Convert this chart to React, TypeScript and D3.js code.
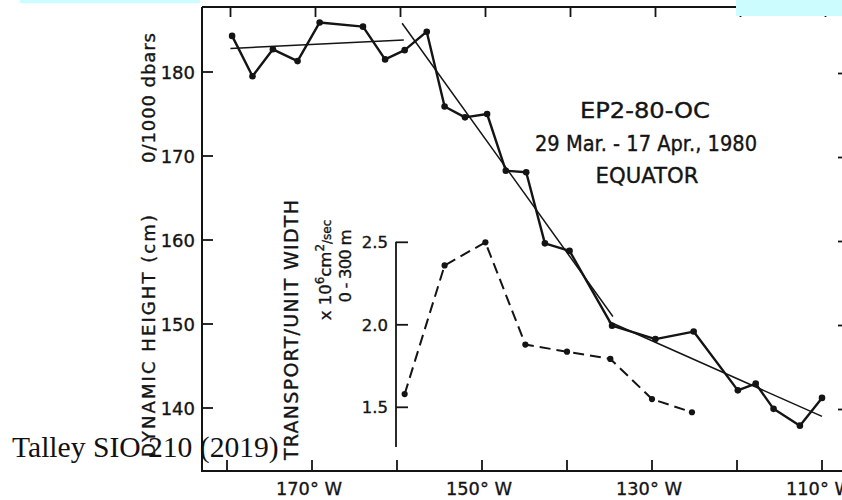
import React from "react";
import * as d3 from "d3";

// Dynamic height 0/1000 dbar along the equator (longitude in degrees W)
const STATION_LON = [179.4, 177.0, 174.6, 171.7, 169.1, 164.0, 161.4, 159.1, 156.5, 154.4, 152.0, 149.4, 147.2, 144.8, 142.6, 139.7, 134.7, 129.6, 125.1, 119.9, 117.8, 115.7, 112.6, 110.0];
const DYN_HEIGHT = [184.3, 179.5, 182.7, 181.3, 185.9, 185.4, 181.5, 182.6, 184.8, 175.9, 174.6, 175.0, 168.25, 168.06, 159.6, 158.7, 149.8, 148.2, 149.1, 142.1, 142.9, 139.9, 137.9, 141.2];

// Straight-line fits over three longitude bands
const FIT_WEST_LON = [179.6, 159.2];
const FIT_WEST = [182.8, 183.8];
const FIT_MID_LON = [159.4, 134.6];
const FIT_MID = [185.8, 150.9];
const FIT_EAST_LON = [135.1, 110.0];
const FIT_EAST = [150.3, 139.0];

// Transport per unit width, 0-300 m (x 10^6 cm^2/sec)
const TRANSPORT_LON = [159.1, 154.4, 149.6, 144.9, 140.0, 134.9, 130.0, 125.3];
const TRANSPORT = [1.58, 2.36, 2.5, 1.88, 1.837, 1.793, 1.55, 1.47];

const LON_TICKS = [180, 170, 160, 150, 140, 130, 120, 110];
const LON_LABELS = [170, 150, 130, 110];
const HEIGHT_TICKS = [180, 170, 160, 150, 140];
const TRANSPORT_TICKS = [2.5, 2.0, 1.5];

const TITLE_LINES = ["EP2-80-OC", "29 Mar. - 17 Apr., 1980", "EQUATOR"];

const W = 842;
const H = 500;
const INK = "#141414";
const FONT = "'DejaVu Sans', sans-serif";
// a light outline gives the lettering a pen-drawn weight
const PEN = { stroke: INK, strokeWidth: 0.35 };

export default function App() {
  const x = d3.scaleLinear().domain([180, 110]).range([227, 822]);
  const y = d3.scaleLinear().domain([180, 140]).range([72, 408]);
  const yT = d3.scaleLinear().domain([2.5, 1.5]).range([242.3, 407.3]);

  const left = 202;
  const top = 7;
  const bottom = 471;
  const tAxisX = 396;

  const heightLine = d3
    .line<number>()
    .x((_, i) => x(STATION_LON[i]))
    .y((d) => y(d));
  const transportLine = d3
    .line<number>()
    .x((_, i) => x(TRANSPORT_LON[i]))
    .y((d) => yT(d));
  const fit = (lons: number[], vals: number[]) =>
    d3.line<number>().x((_, i) => x(lons[i])).y((d) => y(d))(vals) || "";

  return (
    <svg
      width={W}
      height={H}
      style={{ position: "absolute", left: 0, top: 0, background: "#fff" }}
      fontFamily={FONT}
    >
      <rect x={0} y={0} width={W} height={H} fill="#fff" />

      {/* frame */}
      <line x1={left} y1={top} x2={left} y2={bottom} stroke={INK} strokeWidth={2} />
      <line x1={left - 1} y1={bottom} x2={W} y2={bottom} stroke={INK} strokeWidth={2} />
      <line x1={left} y1={top} x2={W} y2={top} stroke={INK} strokeWidth={2} />

      {/* longitude ticks, bottom and top */}
      {LON_TICKS.map((t) => (
        <g key={"lt" + t}>
          <line x1={x(t)} x2={x(t)} y1={bottom} y2={bottom - 11} stroke={INK} strokeWidth={1.8} />
          <line x1={x(t) + 3.5} x2={x(t) + 3.5} y1={top} y2={top + 10} stroke={INK} strokeWidth={1.8} />
        </g>
      ))}
      {LON_LABELS.map((t) => (
        <text
          key={"ll" + t}
          x={x(t) - 3}
          y={495}
          textAnchor="middle"
          fontSize={18.5}
          fill={INK}
          {...PEN}
          textLength={66}
          lengthAdjust="spacingAndGlyphs"
        >
          {`${t}° W`}
        </text>
      ))}

      {/* dynamic height axis */}
      {HEIGHT_TICKS.map((t) => (
        <g key={"ht" + t}>
          <line x1={left} x2={left + 11} y1={y(t)} y2={y(t)} stroke={INK} strokeWidth={1.8} />
          <line x1={W - 4} x2={W} y1={y(t) + 1.5} y2={y(t) + 1.5} stroke={INK} strokeWidth={1.8} />
          <text x={195} y={y(t) + 6.5} textAnchor="end" fontSize={18} fill={INK} {...PEN}>
            {t}
          </text>
        </g>
      ))}
      <text
        transform="translate(155,336) rotate(-90)"
        textAnchor="middle"
        fontSize={18}
        fill={INK}
        {...PEN}
        textLength={242}
        lengthAdjust="spacing"
      >
        DYNAMIC HEIGHT (cm)
      </text>
      <text
        transform="translate(155,98) rotate(-90)"
        textAnchor="middle"
        fontSize={18}
        fill={INK}
        {...PEN}
        textLength={130}
        lengthAdjust="spacing"
      >
        0/1000 dbars
      </text>

      {/* transport axis */}
      <line x1={tAxisX} x2={tAxisX} y1={yT(2.5) - 0.5} y2={447} stroke={INK} strokeWidth={1.8} />
      {TRANSPORT_TICKS.map((t) => (
        <g key={"tt" + t}>
          <line x1={tAxisX} x2={tAxisX + 12} y1={yT(t)} y2={yT(t)} stroke={INK} strokeWidth={1.8} />
          <text x={388} y={yT(t) + 6} textAnchor="end" fontSize={16.5} fill={INK} {...PEN}>
            {t.toFixed(1)}
          </text>
        </g>
      ))}
      <text
        transform="translate(298,330) rotate(-90)"
        textAnchor="middle"
        fontSize={19}
        fill={INK}
        {...PEN}
        textLength={260}
        lengthAdjust="spacing"
      >
        TRANSPORT/UNIT WIDTH
      </text>
      <text
        transform="translate(331,270) rotate(-90)"
        textAnchor="middle"
        fontSize={16.5}
        fill={INK}
        {...PEN}
      >
        x 10<tspan dy={-7} fontSize={12}>6</tspan>
        <tspan dy={7}>cm</tspan>
        <tspan dy={-7} fontSize={12}>2</tspan>
        <tspan dy={7} fontSize={12}>/sec</tspan>
      </text>
      <text
        transform="translate(351,266) rotate(-90)"
        textAnchor="middle"
        fontSize={16.5}
        fill={INK}
        {...PEN}
        textLength={73}
        lengthAdjust="spacing"
      >
        0 - 300 m
      </text>

      {/* fitted lines */}
      <path d={fit(FIT_WEST_LON, FIT_WEST)} fill="none" stroke={INK} strokeWidth={1.5} />
      <path d={fit(FIT_MID_LON, FIT_MID)} fill="none" stroke={INK} strokeWidth={1.5} />
      <path d={fit(FIT_EAST_LON, FIT_EAST)} fill="none" stroke={INK} strokeWidth={1.5} />

      {/* dynamic height stations */}
      <path d={heightLine(DYN_HEIGHT) || ""} fill="none" stroke={INK} strokeWidth={2.4} strokeLinejoin="round" />
      {DYN_HEIGHT.map((v, i) => (
        <circle key={"hp" + i} cx={x(STATION_LON[i])} cy={y(v)} r={3.3} fill={INK} />
      ))}

      {/* transport */}
      <path
        d={transportLine(TRANSPORT) || ""}
        fill="none"
        stroke={INK}
        strokeWidth={2}
        strokeDasharray="11,6"
      />
      {TRANSPORT.map((v, i) => (
        <circle key={"tp" + i} cx={x(TRANSPORT_LON[i])} cy={yT(v)} r={3.1} fill={INK} />
      ))}

      {/* cruise annotation */}
      {TITLE_LINES.map((s, i) => (
        <text
          key={"tl" + i}
          x={i === 1 ? 646 : i === 0 ? 645 : 647}
          y={118.3 + i * 32.5}
          textAnchor="middle"
          fontSize={20.5}
          fill={INK}
          {...PEN}
          textLength={[130, 222, 103][i]}
          lengthAdjust="spacingAndGlyphs"
        >
          {s}
        </text>
      ))}

      {/* highlight strips */}
      <rect x={20} y={0} width={180} height={3.3} fill="#cdfcff" />
      <rect x={736} y={0} width={106} height={16} fill="#cdfcff" />

      <text
        x={12}
        y={457}
        fontFamily="'Liberation Serif', 'Times New Roman', serif"
        fontSize={29.6}
        fill="#111"
      >
        Talley SIO 210 (2019)
      </text>
    </svg>
  );
}
